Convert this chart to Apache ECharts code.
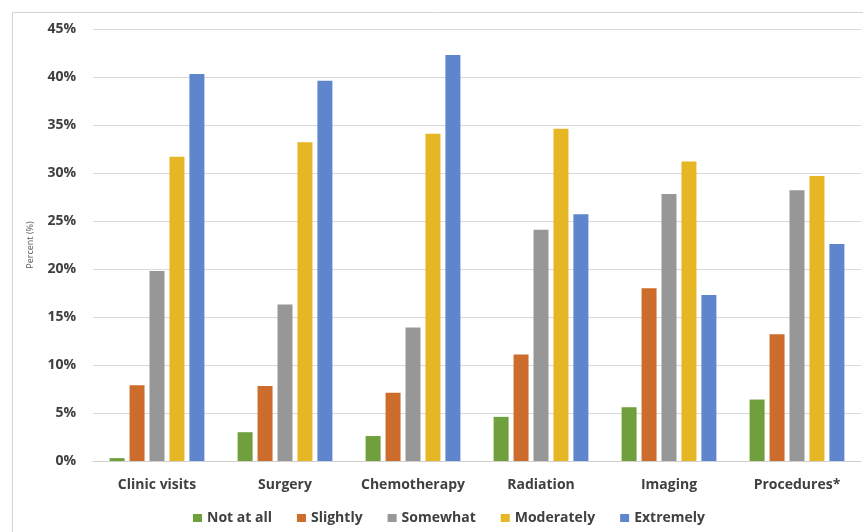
<!DOCTYPE html>
<html>
<head>
<meta charset="utf-8">
<script src="https://cdn.jsdelivr.net/npm/echarts@6/dist/echarts.min.js"></script>
<style>
  html, body { margin: 0; padding: 0; background: #fff; }
  #chart { width: 863px; height: 532px; }
</style>
</head>
<body>
<div id="chart"></div>
<script>
// Share of respondents by concern level, per care setting
const categories = ['Clinic visits', 'Surgery', 'Chemotherapy', 'Radiation', 'Imaging', 'Procedures*'];
const seriesNames = ['Not at all', 'Slightly', 'Somewhat', 'Moderately', 'Extremely'];
const notAtAll   = [0.3, 3.0, 2.6, 4.6, 5.6, 6.4];
const slightly   = [7.9, 7.8, 7.1, 11.1, 18.0, 13.2];
const somewhat   = [19.8, 16.3, 13.9, 24.1, 27.8, 28.2];
const moderately = [31.7, 33.2, 34.1, 34.6, 31.2, 29.7];
const extremely  = [40.3, 39.6, 42.3, 25.7, 17.3, 22.6];
const colors = ['#6FA03D', '#CD6C2B', '#979797', '#E6B624', '#5F85CD'];

const values = [notAtAll, slightly, somewhat, moderately, extremely];
const font = '"Open Sans", "Liberation Sans", sans-serif';

const chart = echarts.init(document.getElementById('chart'), null, { renderer: 'canvas' });
chart.setOption({
  animation: false,
  color: colors,
  graphic: [{
    type: 'rect',
    shape: { x: 12.5, y: 12.5, width: 900, height: 600 },
    style: { fill: 'none', stroke: '#d4d4d4', lineWidth: 1 },
    silent: true
  }],
  grid: { left: 93, right: 2, top: 29, bottom: 71, containLabel: false },
  legend: {
    data: seriesNames,
    bottom: 2,
    left: 188,
    itemWidth: 9,
    itemHeight: 8,
    itemGap: 25,
    icon: 'rect',
    textStyle: { fontFamily: font, fontSize: 14, fontWeight: 'bold', color: '#404040' }
  },
  xAxis: {
    type: 'category',
    data: categories,
    axisTick: { show: false },
    axisLine: { lineStyle: { color: '#d0d0d0' } },
    axisLabel: { interval: 0, fontFamily: font, fontSize: 14, fontWeight: 'bold', color: '#404040', margin: 17 }
  },
  yAxis: {
    type: 'value',
    min: 0,
    max: 45,
    interval: 5,
    name: 'Percent (%)',
    nameLocation: 'middle',
    nameGap: 58,
    nameTextStyle: { fontFamily: font, fontSize: 9, color: '#595959' },
    axisLine: { show: false },
    axisTick: { show: false },
    splitLine: { lineStyle: { color: '#d9d9d9', width: 1 } },
    axisLabel: { formatter: '{value}%', fontFamily: font, fontSize: 14, fontWeight: 'bold', color: '#404040', margin: 17 }
  },
  series: seriesNames.map((name, i) => ({
    name: name,
    type: 'bar',
    data: values[i],
    barWidth: 15,
    barGap: '33%',
    itemStyle: { color: colors[i] }
  }))
});
</script>
</body>
</html>
